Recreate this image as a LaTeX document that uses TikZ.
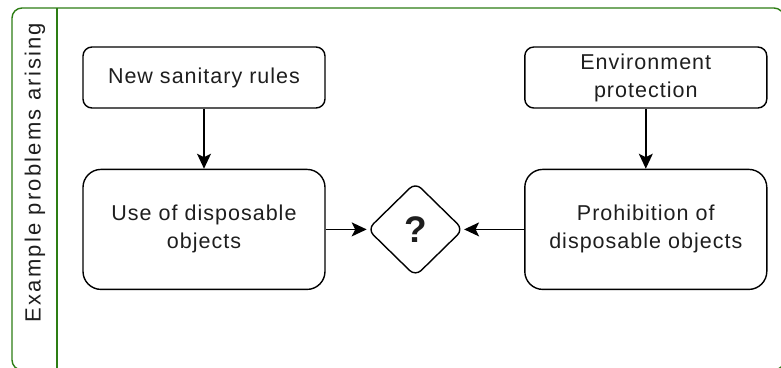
\documentclass[tikz,border=0pt]{standalone}
\usepackage{fontspec}
\setmainfont{Liberation Sans}
\newfontfamily\boxfont[LetterSpace=4.7]{Liberation Sans}
\newfontfamily\lanefont[LetterSpace=10]{Liberation Sans}
\usepackage{tikz}
\usetikzlibrary{arrows.meta,positioning,shapes.geometric}
\definecolor{poolgreen}{RGB}{45,125,20}
\definecolor{inkgrey}{RGB}{30,30,30}

\begin{document}
\begin{tikzpicture}[x=1pt,y=-1pt,>={Stealth[length=15pt,width=14pt,inset=3.5pt]},line width=1.4pt,node distance=60pt,align=center,
		box/.style={draw,inner sep=0pt,minimum width=242pt,text=inkgrey,font=\boxfont\fontsize{21.5}{28}\selectfont},
		smallbox/.style={box,rounded corners=9pt,minimum height=61pt},
		bigbox/.style={box,rounded corners=18pt,minimum height=120pt}]
		\useasboundingbox (0,0) rectangle (781,367);
		% pool and lane
		\draw[poolgreen,rounded corners=10pt] (12,8) rectangle (784,370);
		\draw[poolgreen] (57,8) -- (57,370);
		\node[rotate=90,text=inkgrey,font=\lanefont\fontsize{22}{26}\selectfont] (lane) at (35,172.5) {Example problems arising};
		% boxes
		\node[smallbox] (sanitary) at (204,77.5) {New sanitary rules};
		\node[bigbox] [below=60pt of sanitary] (use) {Use of disposable\\objects};
		\node[draw,diamond,rounded corners=8pt,inner sep=0pt,minimum width=96pt,minimum height=94pt,text=inkgrey,font=\fontsize{37}{40}\bfseries\selectfont] [right=41pt of use] (choice) {?};
		\node[bigbox] [right=60pt of choice] (prohibit) {Prohibition of\\disposable objects};
		\node[smallbox] [above=60pt of prohibit] (environment) {Environment\\protection};
		\path[->]
			(sanitary) edge (use)
			(use) edge (choice)
			(environment) edge (prohibit)
			(prohibit) edge (choice);
	\end{tikzpicture}
\end{document}
